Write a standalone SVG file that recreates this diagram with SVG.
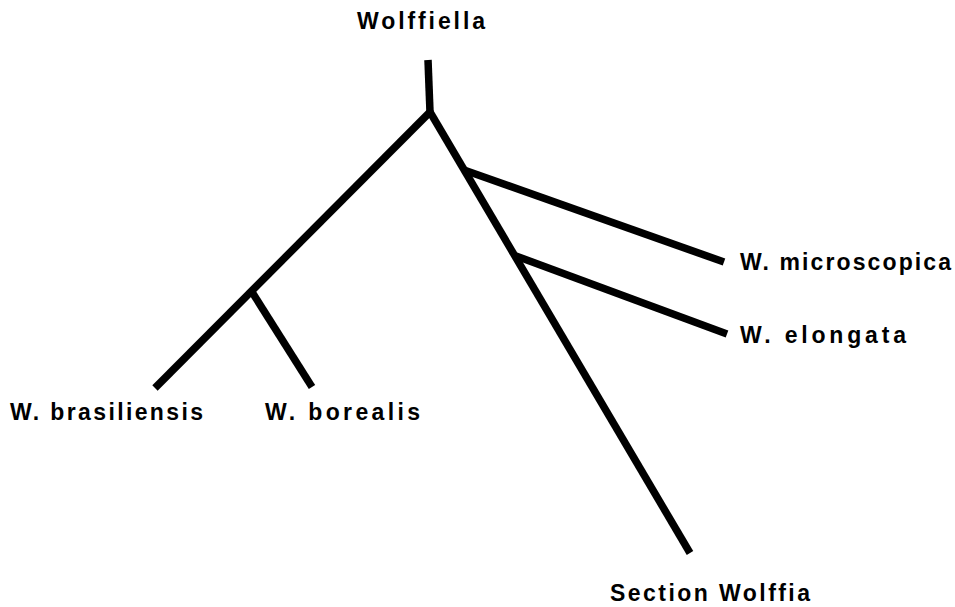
<svg xmlns="http://www.w3.org/2000/svg" width="955" height="607" viewBox="0 0 955 607">
<style>
.e{stroke:#000;stroke-width:7.5;fill:none;stroke-linecap:butt;stroke-linejoin:round}
.t{font-family:"Liberation Sans",Arial,sans-serif;font-size:23px;font-weight:bold;fill:#000;letter-spacing:2px}
</style>
<rect width="955" height="607" fill="#fff"/>
<g id="connectors">
<path class="e" d="M428,60 L430,112"/>
<path class="e" d="M430,112 L155,388"/>
<path class="e" d="M430,112 L690,553"/>
<path class="e" d="M252,292 L312,387"/>
<path class="e" d="M464,170 L724,262"/>
<path class="e" d="M516,256 L727,334"/>
</g>
<g id="wolffiella"><text class="t" x="357" y="29" textLength="130" lengthAdjust="spacing">Wolffiella</text></g>
<g id="brasiliensis"><text class="t" x="10" y="420" textLength="195" lengthAdjust="spacing">W. brasiliensis</text></g>
<g id="borealis"><text class="t" x="265" y="420" textLength="157" lengthAdjust="spacing">W. borealis</text></g>
<g id="microscopica"><text class="t" x="740" y="270" textLength="213" lengthAdjust="spacing">W. microscopica</text></g>
<g id="elongata"><text class="t" x="740" y="343" textLength="168" lengthAdjust="spacing">W. elongata</text></g>
<g id="section"><text class="t" x="610" y="601" textLength="202" lengthAdjust="spacing">Section Wolffia</text></g>
</svg>
